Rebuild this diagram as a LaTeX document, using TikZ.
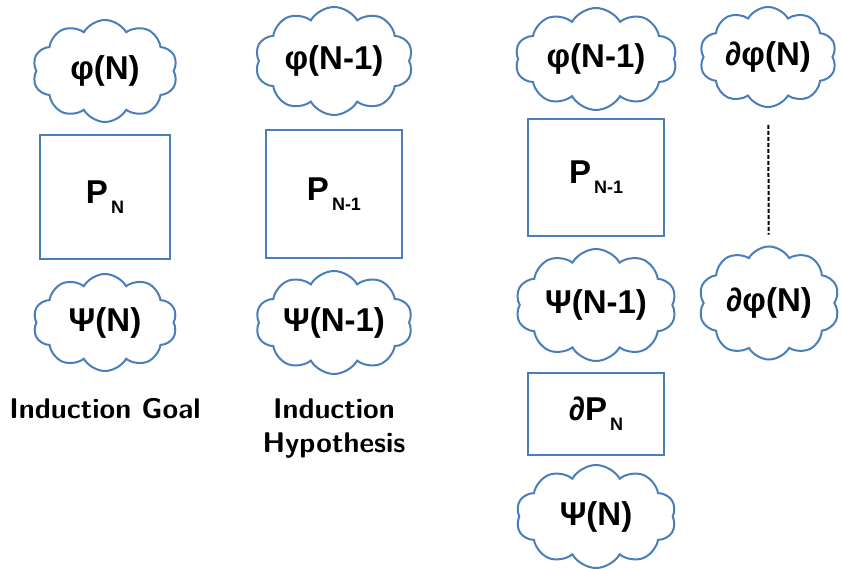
\documentclass[tikz,border=0pt]{standalone}
\usepackage{fontspec}
\setmainfont{Liberation Sans}
\usepackage{tikz}
\usetikzlibrary{positioning}
\usetikzlibrary{shapes.symbols}
\definecolor{outline}{HTML}{4A7EBB}
\newcommand{\lowsub}[1]{\kern3pt\raisebox{-10pt}{\fontsize{18}{18}\selectfont #1}}
\tikzset{
    puff/.style={
      cloud,
           draw=outline, line width=2pt,
           cloud puffs=10, cloud puff arc=120,
           cloud ignores aspect,
           inner sep=0pt,
           text centered,
           font=\bfseries\fontsize{33}{33}\selectfont,
           minimum width=145pt,
           minimum height=100pt,
           },
}
\tikzset{
    proc/.style={
      rectangle,
           draw=outline, line width=2pt,
           inner sep=0pt,
           text centered,
           font=\bfseries\fontsize{33}{33}\selectfont,
           minimum width=136pt,
           minimum height=124pt,
           },
}
\tikzset{
    tag/.style={
      rectangle,
           inner sep=0pt,
           align=center,
           font=\sffamily\bfseries\fontsize{28.5}{34}\selectfont,
           },
}

\begin{document}
\begin{tikzpicture}[x=1pt,y=-1pt]

\useasboundingbox (0,0) rectangle (842,569);

% induction goal
\node[puff,minimum width=145pt,minimum height=102pt] (phn) at (105,71) {φ(N)};
\node[proc,minimum width=130pt,below = 11pt of phn] (pn) {P\lowsub{N}};
\node[puff,minimum width=144pt,minimum height=97pt,below = 13pt of pn] (psn) {Ψ(N)};
\node[tag,below = 26pt of psn] (goal) {Induction Goal};

% induction hypothesis
\node[puff,minimum width=158pt,minimum height=108pt] (phm) at (334,61) {φ(N-1)};
\node[proc,minimum height=128pt,below = 13pt of phm] (pm) {P\lowsub{N-1}};
\node[puff,minimum width=157pt,minimum height=103pt,below = 11pt of pm] (psm) {Ψ(N-1)};
\node[tag,below = 24pt of psm] (hyp) {Induction\\Hypothesis};

% step
\node[puff,minimum width=162pt,minimum height=102pt] (sph) at (596,59) {φ(N-1)};
\node[proc,minimum height=117pt,below = 7pt of sph] (spm) {P\lowsub{N-1}};
\node[puff,minimum width=161pt,minimum height=112pt,below = 11pt of spm] (sps) {Ψ(N-1)};
\node[proc,minimum height=82pt,below = 10pt of sps] (dpn) {∂P\lowsub{N}};
\node[puff,minimum width=160pt,minimum height=103pt,below = 8pt of dpn] (spn) {Ψ(N)};

\node[puff,minimum width=137pt,minimum height=100pt] (dph) at (768,57) {∂φ(N)};
\node[puff,minimum width=141pt,minimum height=113pt] (dpb) at (769,303) {∂φ(N)};

\path (dph) edge[line width=2pt,dash pattern=on 4pt off 2pt,shorten <=17pt,shorten >=11pt](dpb);

\end{tikzpicture}
\end{document}
